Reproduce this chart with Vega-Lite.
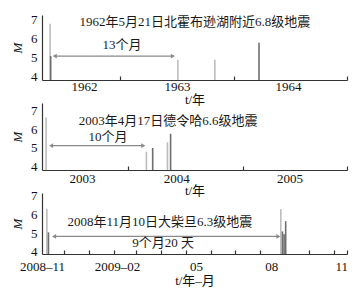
{
  "$schema": "https://vega.github.io/schema/vega-lite/v6.json",
  "padding": {"left": 11, "top": 13, "right": 15, "bottom": 5},
  "config": {
    "font": "Liberation Serif, Noto Sans CJK SC",
    "view": {"stroke": null},
    "axis": {"domainColor": "#333", "domainWidth": 1.2, "tickColor": "#333", "tickWidth": 1.2, "labelColor": "#111", "titleColor": "#111", "labelFontSize": 13, "titleFontSize": 13, "titleFontWeight": "normal", "grid": false, "labelFlush": false, "labelOverlap": false, "tickCount": 20},
    "text": {"fontSize": 13, "color": "#1a1a1a"}
  },
  "datasets": {
    "e1": [
      {"date": "1962-05-21", "M": 6.8, "kind": "浅"},
      {"date": "1962-05-23", "M": 5.1, "kind": "深"},
      {"date": "1963-07-06", "M": 4.9, "kind": "浅"},
      {"date": "1963-11-02", "M": 4.9, "kind": "浅"},
      {"date": "1964-03-23", "M": 5.8, "kind": "深"}
    ],
    "a1": [{"start": "1962-06-05", "end": "1963-06-20", "M": 5.1}],
    "t1": [
      {"date": "1963-08-30", "M": 6.9, "text": "1962年5月21日北霍布逊湖附近6.8级地震"},
      {"date": "1963-01-07", "M": 5.68, "text": "13个月"}
    ],
    "e2": [
      {"date": "2003-04-17", "M": 6.6, "kind": "浅"},
      {"date": "2004-03-01", "M": 4.8, "kind": "浅"},
      {"date": "2004-03-21", "M": 5.0, "kind": "深"},
      {"date": "2004-05-07", "M": 5.3, "kind": "浅"},
      {"date": "2004-05-17", "M": 5.75, "kind": "深"}
    ],
    "a2": [{"start": "2003-05-03", "end": "2004-02-20", "M": 5.12}],
    "t2": [
      {"date": "2004-05-09", "M": 6.42, "text": "2003年4月17日德令哈6.6级地震"},
      {"date": "2003-10-31", "M": 5.58, "text": "10个月"}
    ],
    "e3": [
      {"date": "2008-11-10", "M": 6.3, "kind": "浅"},
      {"date": "2008-11-12", "M": 5.05, "kind": "深"},
      {"date": "2009-08-27", "M": 6.3, "kind": "浅"},
      {"date": "2009-08-29", "M": 5.1, "kind": "深"},
      {"date": "2009-08-31", "M": 4.95, "kind": "深"},
      {"date": "2009-09-02", "M": 5.65, "kind": "深"}
    ],
    "a3": [{"start": "2008-11-19", "end": "2009-08-24", "M": 4.83}],
    "t3": [
      {"date": "2009-03-30", "M": 5.59, "text": "2008年11月10日大柴旦6.3级地震"},
      {"date": "2009-04-03", "M": 4.47, "text": "9个月20 天"}
    ]
  },
  "spacing": 23,
  "bounds": "flush",
  "resolve": {"scale": {"x": "independent", "y": "independent", "color": "independent"}},
  "vconcat": [
    {
      "width": 305, "height": 65,
      "resolve": {"axis": {"x": "independent", "y": "independent"}},
      "layer": [
        {
          "data": {"name": "e1"},
          "mark": {"type": "rule", "strokeWidth": 1.6},
          "encoding": {
            "x": {"field": "date", "type": "temporal",
              "scale": {"type": "utc", "domain": [{"year": 1962, "month": 4, "date": 25, "utc": true}, {"year": 1964, "month": 12, "date": 31, "utc": true}]},
              "axis": {"orient": "bottom", "title": null, "labels": false, "tickSize": -4, "tickCount": 20,
                "values": [{"year": 1963, "month": 1, "date": 1, "utc": true}, {"year": 1964, "month": 1, "date": 1, "utc": true}, {"year": 1964, "month": 12, "date": 31, "utc": true}]}},
            "y": {"field": "M", "type": "quantitative", "scale": {"domain": [3.84, 7.26], "zero": false, "nice": false},
              "axis": {"orient": "left", "values": [4, 5, 6, 7], "tickCount": 20, "labelExpr": "format(datum.value, 'd')", "ticks": false, "title": "M", "titleFontStyle": "italic", "titlePadding": 6, "labelPadding": 5, "labelOverlap": false}},
            "y2": {"datum": 3.84},
            "color": {"field": "kind", "type": "nominal", "scale": {"domain": ["浅", "深"], "range": ["#bdbdbd", "#6e6e6e"]}, "legend": null}
          }
        },
        {
          "data": {"name": "a1"},
          "mark": {"type": "rule", "color": "#8a8a8a", "strokeWidth": 1.3},
          "encoding": {
            "x": {"field": "start", "type": "temporal", "axis": null},
            "x2": {"field": "end"},
            "y": {"field": "M", "type": "quantitative", "axis": null}
          }
        },
        {
          "data": {"name": "a1"},
          "mark": {"type": "point", "shape": "triangle-left", "filled": true, "size": 22, "color": "#8a8a8a", "opacity": 1},
          "encoding": {
            "x": {"field": "start", "type": "temporal", "axis": null},
            "y": {"field": "M", "type": "quantitative", "axis": null}
          }
        },
        {
          "data": {"name": "a1"},
          "mark": {"type": "point", "shape": "triangle-right", "filled": true, "size": 22, "color": "#8a8a8a", "opacity": 1},
          "encoding": {
            "x": {"field": "end", "type": "temporal", "axis": null},
            "y": {"field": "M", "type": "quantitative", "axis": null}
          }
        },
        {
          "data": {"name": "t1"},
          "mark": {"type": "text", "baseline": "middle"},
          "encoding": {
            "x": {"field": "date", "type": "temporal",
              "axis": {"orient": "bottom", "title": "t/年", "ticks": false, "domain": false, "labelPadding": 0, "titlePadding": 0, "tickCount": 20,
                "values": [{"year": 1962, "month": 9, "date": 7, "utc": true}, {"year": 1963, "month": 7, "date": 3, "utc": true}, {"year": 1964, "month": 6, "date": 24, "utc": true}],
                "labelExpr": "utcFormat(datum.value, '%Y')"}},
            "y": {"field": "M", "type": "quantitative", "axis": null},
            "text": {"field": "text"}
          }
        }
      ]
    },
    {
      "width": 305, "height": 67,
      "resolve": {"axis": {"x": "independent", "y": "independent"}},
      "layer": [
        {
          "data": {"name": "e2"},
          "mark": {"type": "rule", "strokeWidth": 1.6},
          "encoding": {
            "x": {"field": "date", "type": "temporal",
              "scale": {"type": "utc", "domain": [{"year": 2003, "month": 4, "date": 4, "utc": true}, {"year": 2005, "month": 11, "date": 29, "utc": true}]},
              "axis": {"orient": "bottom", "title": null, "labels": false, "tickSize": -4, "tickCount": 20,
                "values": [{"year": 2004, "month": 1, "date": 1, "utc": true}, {"year": 2005, "month": 1, "date": 1, "utc": true}, {"year": 2005, "month": 11, "date": 29, "utc": true}]}},
            "y": {"field": "M", "type": "quantitative", "scale": {"domain": [3.84, 7.37], "zero": false, "nice": false},
              "axis": {"orient": "left", "values": [4, 5, 6, 7], "tickCount": 20, "labelExpr": "format(datum.value, 'd')", "ticks": false, "title": "M", "titleFontStyle": "italic", "titlePadding": 6, "labelPadding": 5, "labelOverlap": false}},
            "y2": {"datum": 3.84},
            "color": {"field": "kind", "type": "nominal", "scale": {"domain": ["浅", "深"], "range": ["#bdbdbd", "#6e6e6e"]}, "legend": null}
          }
        },
        {
          "data": {"name": "a2"},
          "mark": {"type": "rule", "color": "#8a8a8a", "strokeWidth": 1.3},
          "encoding": {
            "x": {"field": "start", "type": "temporal", "axis": null},
            "x2": {"field": "end"},
            "y": {"field": "M", "type": "quantitative", "axis": null}
          }
        },
        {
          "data": {"name": "a2"},
          "mark": {"type": "point", "shape": "triangle-left", "filled": true, "size": 22, "color": "#8a8a8a", "opacity": 1},
          "encoding": {
            "x": {"field": "start", "type": "temporal", "axis": null},
            "y": {"field": "M", "type": "quantitative", "axis": null}
          }
        },
        {
          "data": {"name": "a2"},
          "mark": {"type": "point", "shape": "triangle-right", "filled": true, "size": 22, "color": "#8a8a8a", "opacity": 1},
          "encoding": {
            "x": {"field": "end", "type": "temporal", "axis": null},
            "y": {"field": "M", "type": "quantitative", "axis": null}
          }
        },
        {
          "data": {"name": "t2"},
          "mark": {"type": "text", "baseline": "middle"},
          "encoding": {
            "x": {"field": "date", "type": "temporal",
              "axis": {"orient": "bottom", "title": "t/年", "ticks": false, "domain": false, "labelPadding": 2.5, "titlePadding": -1, "tickCount": 20,
                "values": [{"year": 2003, "month": 8, "date": 9, "utc": true}, {"year": 2004, "month": 6, "date": 4, "utc": true}, {"year": 2005, "month": 5, "date": 30, "utc": true}],
                "labelExpr": "utcFormat(datum.value, '%Y')"}},
            "y": {"field": "M", "type": "quantitative", "axis": null},
            "text": {"field": "text"}
          }
        }
      ]
    },
    {
      "width": 305, "height": 61,
      "resolve": {"axis": {"x": "independent", "y": "independent"}},
      "layer": [
        {
          "data": {"name": "e3"},
          "mark": {"type": "rule", "strokeWidth": 1.6},
          "encoding": {
            "x": {"field": "date", "type": "temporal",
              "scale": {"type": "utc", "domain": [{"year": 2008, "month": 11, "date": 4, "utc": true}, {"year": 2009, "month": 11, "date": 17, "utc": true}]},
              "axis": {"orient": "bottom", "title": null, "labels": false, "tickSize": -4, "tickCount": 20,
                "values": [
                  {"year": 2008, "month": 12, "date": 1, "utc": true},
                  {"year": 2009, "month": 1, "date": 1, "utc": true},
                  {"year": 2009, "month": 2, "date": 1, "utc": true},
                  {"year": 2009, "month": 3, "date": 1, "utc": true},
                  {"year": 2009, "month": 4, "date": 1, "utc": true},
                  {"year": 2009, "month": 5, "date": 1, "utc": true},
                  {"year": 2009, "month": 6, "date": 1, "utc": true},
                  {"year": 2009, "month": 7, "date": 1, "utc": true},
                  {"year": 2009, "month": 8, "date": 1, "utc": true},
                  {"year": 2009, "month": 9, "date": 1, "utc": true},
                  {"year": 2009, "month": 10, "date": 1, "utc": true},
                  {"year": 2009, "month": 11, "date": 1, "utc": true},
                  {"year": 2009, "month": 11, "date": 17, "utc": true}
                ]}},
            "y": {"field": "M", "type": "quantitative", "scale": {"domain": [3.89, 7.16], "zero": false, "nice": false},
              "axis": {"orient": "left", "values": [4, 5, 6, 7], "tickCount": 20, "labelExpr": "format(datum.value, 'd')", "ticks": false, "title": "M", "titleFontStyle": "italic", "titlePadding": 6, "labelPadding": 5, "labelOverlap": false}},
            "y2": {"datum": 3.89},
            "color": {"field": "kind", "type": "nominal", "scale": {"domain": ["浅", "深"], "range": ["#bdbdbd", "#6e6e6e"]}, "legend": null}
          }
        },
        {
          "data": {"name": "a3"},
          "mark": {"type": "rule", "color": "#8a8a8a", "strokeWidth": 1.3},
          "encoding": {
            "x": {"field": "start", "type": "temporal", "axis": null},
            "x2": {"field": "end"},
            "y": {"field": "M", "type": "quantitative", "axis": null}
          }
        },
        {
          "data": {"name": "a3"},
          "mark": {"type": "point", "shape": "triangle-left", "filled": true, "size": 22, "color": "#8a8a8a", "opacity": 1},
          "encoding": {
            "x": {"field": "start", "type": "temporal", "axis": null},
            "y": {"field": "M", "type": "quantitative", "axis": null}
          }
        },
        {
          "data": {"name": "a3"},
          "mark": {"type": "point", "shape": "triangle-right", "filled": true, "size": 22, "color": "#8a8a8a", "opacity": 1},
          "encoding": {
            "x": {"field": "end", "type": "temporal", "axis": null},
            "y": {"field": "M", "type": "quantitative", "axis": null}
          }
        },
        {
          "data": {"name": "t3"},
          "mark": {"type": "text", "baseline": "middle"},
          "encoding": {
            "x": {"field": "date", "type": "temporal",
              "axis": {"orient": "bottom", "title": "t/年–月", "ticks": false, "domain": false, "labelPadding": 6, "titlePadding": 1, "tickCount": 20,
                "values": [
                  {"year": 2008, "month": 11, "date": 4, "utc": true},
                  {"year": 2009, "month": 2, "date": 5, "utc": true},
                  {"year": 2009, "month": 5, "date": 14, "utc": true},
                  {"year": 2009, "month": 8, "date": 15, "utc": true},
                  {"year": 2009, "month": 11, "date": 10, "utc": true}
                ],
                "labelExpr": "utcFormat(datum.value, '%m') == '02' || utcFormat(datum.value, '%Y') == '2008' ? utcFormat(datum.value, '%Y–%m') : utcFormat(datum.value, '%m')"}},
            "y": {"field": "M", "type": "quantitative", "axis": null},
            "text": {"field": "text"}
          }
        }
      ]
    }
  ]
}
